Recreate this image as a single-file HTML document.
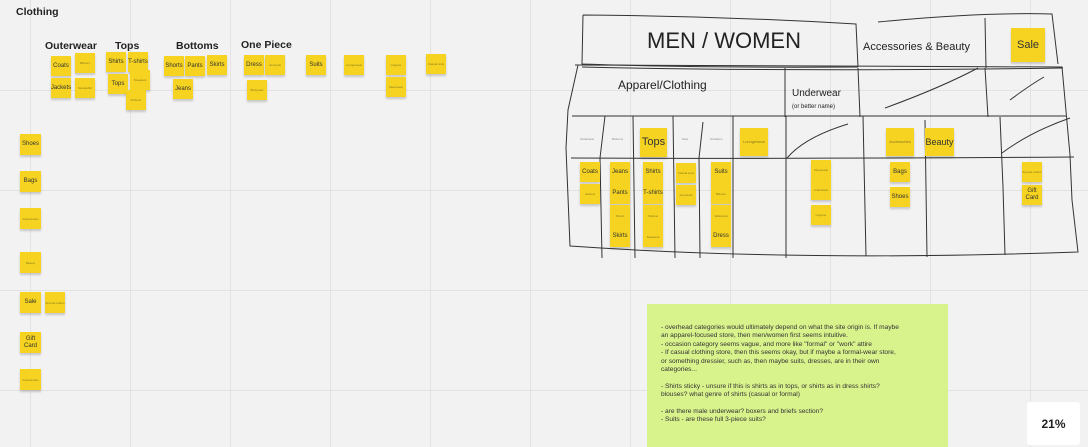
<!DOCTYPE html>
<html><head><meta charset="utf-8"><style>
body{margin:0;width:1088px;height:447px;overflow:hidden;background:#f2f2f2;font-family:"Liberation Sans",sans-serif;position:relative}
.grid{position:absolute;inset:0;background-image:linear-gradient(to right,#e2e2e2 1px,transparent 1px),linear-gradient(to bottom,#e2e2e2 1px,transparent 1px);background-size:100px 100px;background-position:30px 90px}
.s{position:absolute;background:#f5d320;box-shadow:0 2px 2px rgba(0,0,0,.18);display:flex;align-items:center;justify-content:center;text-align:center;color:#333;font-size:6px;line-height:7px;overflow:hidden}
.s.t{font-size:3px;line-height:4px;color:#8a7a20}
.h{position:absolute;font-weight:bold;font-size:10.5px;color:#222}
.lbl{position:absolute;color:#222}
svg{position:absolute;left:0;top:0}
</style></head><body>
<div class="grid"></div>
<div class="h" style="left:16px;top:6px;font-size:10.5px">Clothing</div>
<div class="h" style="left:45px;top:40px">Outerwear</div>
<div class="h" style="left:115px;top:40px">Tops</div>
<div class="h" style="left:176px;top:40px">Bottoms</div>
<div class="h" style="left:241px;top:39px">One Piece</div>

<svg width="1088" height="447" fill="none" stroke="#333" stroke-width="1">
<path d="M583 15 Q720 16 856 24 L858 67 M583 15 L582 64 Q700 68 858 67"/>
<path d="M878 22 Q980 12 1052 14 L1058 64 M985 18 L986 68" />
<path d="M578 65 L568 110 L566 148 L570 246 Q800 262 1078 252 L1072 200 L1070 155 L1062 67 L575 65"/>
<path d="M582 67 Q800 72 1063 68"/>
<path d="M785 68 L785 117 M858 68 L860 117 M985 68 L988 117"/>
<path d="M572 116 Q820 117 1066 116"/>
<path d="M571 158 Q820 159 1074 157"/>
<path d="M605 116 L600 158 L602 258 M633 116 L635 258 M673 116 L675 258 M703 122 L699 158 L700 258 M733 116 L733 258 M786 116 L786 258 M863 116 L866 256 M925 120 L927 257 M1000 117 L1003 187 L1005 255"/>
<path d="M787 158 Q805 137 848 124 M1002 153 Q1030 132 1070 118 M885 108 Q940 88 978 68 M1010 100 Q1030 85 1044 77"/>
</svg>
<div class="lbl" style="left:647px;top:28px;font-size:22px">MEN / WOMEN</div>
<div class="lbl" style="left:863px;top:41px;font-size:11px">Accessories &amp; Beauty</div>
<div class="lbl" style="left:618px;top:78px;font-size:12px">Apparel/Clothing</div>
<div class="lbl" style="left:792px;top:88px;font-size:10px">Underwear</div>
<div class="lbl" style="left:792px;top:104px;font-size:6px">(or better name)</div>
<div class="lbl" style="left:580px;top:137px;font-size:3px;color:#888">Outerwear</div>
<div class="lbl" style="left:612px;top:137px;font-size:3px;color:#888">Bottoms</div>
<div class="lbl" style="left:682px;top:137px;font-size:3px;color:#888">Sets</div>
<div class="lbl" style="left:710px;top:137px;font-size:3px;color:#888">Occasion</div>

<div id="st"></div>

<div style="position:absolute;left:647px;top:304px;width:301px;height:143px;background:#d8f28c;font-size:6.6px;line-height:8.4px;color:#333;box-sizing:border-box;padding:20px 0 0 14px">
- overhead categories would ultimately depend on what the site origin is. If maybe<br>an apparel-focused store, then men/women first seems intuitive.<br>- occasion category seems vague, and more like "formal" or "work" attire<br>- If casual clothing store, then this seems okay, but if maybe a formal-wear store,<br>or something dressier, such as, then maybe suits, dresses, are in their own<br>categories...<br><br>- Shirts sticky - unsure if this is shirts as in tops, or shirts as in dress shirts?<br>blouses? what genre of shirts (casual or formal)<br><br>- are there male underwear? boxers and briefs section?<br>- Suits - are these full 3-piece suits?
</div>
<div style="position:absolute;left:1027px;top:402px;width:53px;height:43px;background:#fff;border-radius:3px;display:flex;align-items:center;justify-content:center;font-size:12px;font-weight:bold;color:#222">21%</div>

<script>
const stickies=[
["Coats",51,56,20,20,0],["Blazers",75,53,20,20,1],["Jackets",51,78,20,20,0],["Sweatshirt",75,78,20,20,1],
["Shirts",106,52,20,20,0],["T-shirts",128,52,20,20,0],["Tops",108,74,20,20,0],["Sweaters",130,70,20,20,1],["Pullover",126,90,20,20,1],
["Shorts",164,56,20,20,0],["Pants",185,56,20,20,0],["Skirts",207,55,20,20,0],["Jeans",173,79,20,20,0],
["Dress",244,55,20,20,0],["Jumpsuit",265,55,20,20,1],["Bodysuits",247,80,20,20,1],["Suits",306,55,20,20,0],["Loungewear",344,55,20,20,1],
["Lingerie",386,55,20,20,1],["Sleepwear",386,77,20,20,1],["Casual suits",426,54,20,20,1],
["Shoes",20,134,21,21,0],["Bags",20,171,21,21,0],["Accessories",20,208,21,21,1],["Beauty",20,252,21,21,1],["Sale",20,292,21,21,0],["Special orders",45,292,20,21,1],["Gift Card",20,332,21,21,0],["Accessories",20,369,21,21,1],
["Sale",1011,28,34,34,0],["Tops",640,128,27,29,0],["Loungewear",740,128,28,28,1],["Accessories",886,128,28,28,1],["Beauty",925,128,29,28,0],
["Coats",580,162,20,20,0],["Jackets",580,184,20,20,1],["Jeans",610,162,20,21,0],["Pants",610,183,20,21,0],["Shorts",610,205,20,21,1],["Skirts",610,226,20,21,0],
["Shirts",643,162,20,21,0],["T-shirts",643,183,20,21,0],["Pullover",643,205,20,21,1],["Sweaters",643,226,20,21,1],
["Casual suits",676,163,20,20,1],["Jumpsuits",676,185,20,20,1],["Suits",711,162,20,21,0],["Blazers",711,183,20,21,1],["Waistcoat",711,205,20,21,1],["Dress",711,226,20,21,0],
["Sleepwear",811,160,20,20,1],["Underwear",811,180,20,20,1],["Lingerie",811,205,20,20,1],["Bags",890,162,20,20,0],["Shoes",890,187,20,20,0],
["Special orders",1022,162,20,20,1],["Gift Card",1022,185,20,20,0]];
const c=document.getElementById('st');
stickies.forEach(s=>{const d=document.createElement('div');
d.className='s'+(s[5]?' t':'');
d.textContent=s[0];
d.style.cssText=`left:${s[1]}px;top:${s[2]}px;width:${s[3]}px;height:${s[4]}px`;
if(s[3]>26)d.style.fontSize=s[5]?'4px':(s[0].length>4?'9px':'11px');


c.appendChild(d);});
</script>
</body></html>
